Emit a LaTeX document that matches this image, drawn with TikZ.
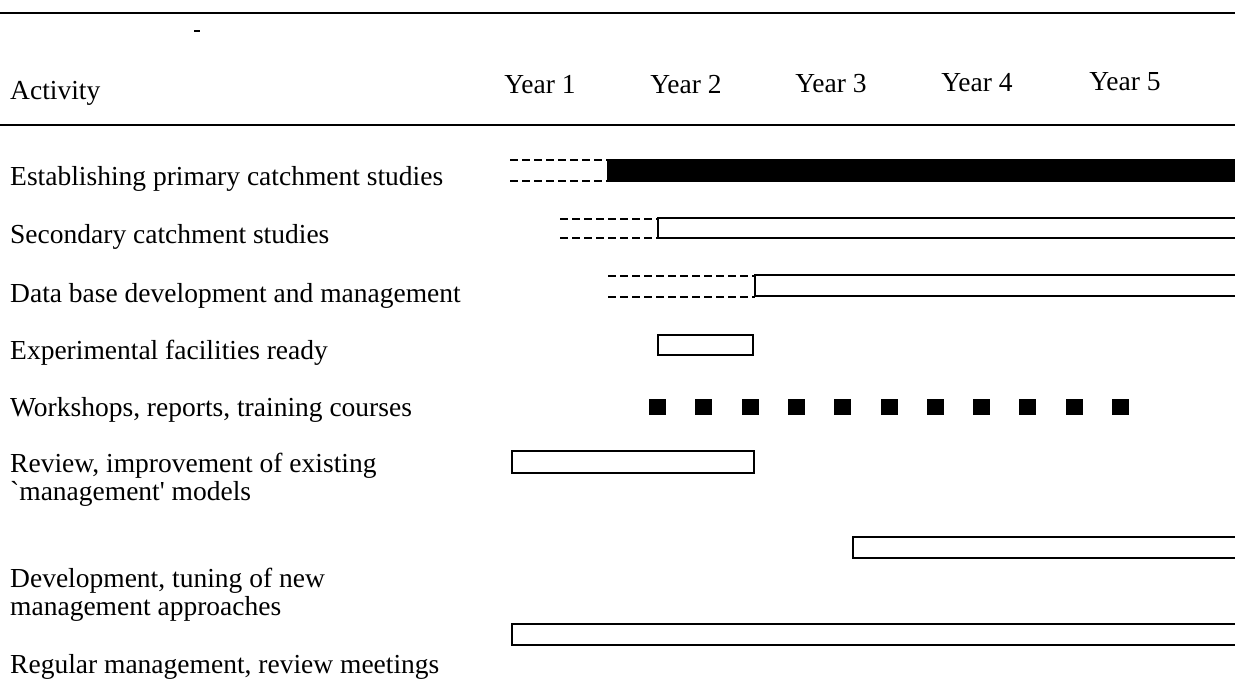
\documentclass[tikz,border=0pt]{standalone}
\usepackage{fontspec}
\setmainfont{Liberation Serif}[Ligatures=TeXOff]
\begin{document}
\begin{tikzpicture}[x=1pt,y=-1pt,
  lbl/.style={anchor=base west,inner sep=0pt,font=\fontsize{27.5}{27.5}\selectfont,align=left},
  yr/.style={anchor=base,inner sep=0pt,font=\fontsize{27.5}{27.5}\selectfont},
  rule/.style={line width=1.6pt},
  bar/.style={draw,line width=1.9pt,fill=white},
  obar/.style={line width=1.9pt},
  fbar/.style={draw,line width=1.2pt,fill=black},
  lead/.style={line width=1.6pt,dash pattern=on 8pt off 4pt},
  sq/.style={fill=black}]
\useasboundingbox (0,0) rectangle (1235,679);
% rules
\draw[rule] (0,13) -- (1235,13);
\draw[line width=1.3pt] (194,31) -- (200,31);
\draw[rule] (0,125) -- (1235,125);
% header
\node[lbl] (act) at (10,100) {Activity};
\node[yr] (y1) at (540,94) {Year 1};
\node[yr] (y2) at (686,94) {Year 2};
\node[yr] (y3) at (831,93) {Year 3};
\node[yr] (y4) at (977,92) {Year 4};
\node[yr] (y5) at (1125,91) {Year 5};
% labels
\node[lbl] (r1) at (10,186) {Establishing primary catchment studies};
\node[lbl] (r2) at (10,244) {Secondary catchment studies};
\node[lbl] (r3) at (10,302) {Data base development and management};
\node[lbl] (r4) at (10,359) {Experimental facilities ready};
\node[lbl] (r5) at (10,416) {Workshops, reports, training courses};
\node[lbl] (r6) at (10,500) {Review, improvement of existing\\`management' models};
\node[lbl] (r7) at (10,615) {Development, tuning of new\\management approaches};
\node[lbl] (r8) at (10,673) {Regular management, review meetings};
% row 1
\draw[lead] (510,160) -- (608,160);
\draw[lead] (510,181) -- (608,181);
\draw[fbar] (608,160) rectangle (1236,181);
% row 2
\draw[lead] (560,219) -- (658,219);
\draw[lead] (560,238) -- (658,238);
\draw[obar] (1236,218) -- (658,218) -- (658,238) -- (1236,238);
% row 3
\draw[lead] (608,276) -- (755,276);
\draw[lead] (608,297) -- (755,297);
\draw[obar] (1236,275) -- (755,275) -- (755,296) -- (1236,296);
% row 4
\draw[bar] (658,335) rectangle (753,355);
% row 5 squares
\foreach \i in {0,...,10}{
  \fill[sq] ({649+46.3*\i},399) rectangle ++(17,16);
}
% row 6
\draw[bar] (512,451) rectangle (754,473);
% row 7
\draw[obar] (1236,537) -- (853,537) -- (853,558) -- (1236,558);
% row 8
\draw[obar] (1236,624) -- (512,624) -- (512,645) -- (1236,645);
\end{tikzpicture}
\end{document}
